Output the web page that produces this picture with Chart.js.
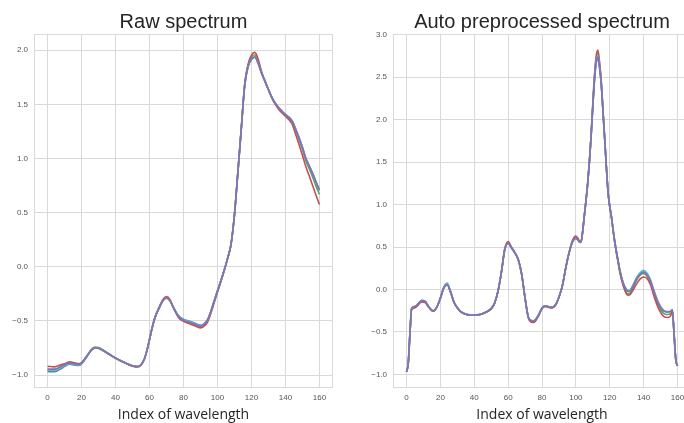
<!DOCTYPE html>
<html>
<head>
<meta charset="utf-8">
<script src="https://cdn.jsdelivr.net/npm/chart.js@4.4.0/dist/chart.umd.min.js"></script>
<style>
  html, body { margin: 0; padding: 0; background: #ffffff; overflow: hidden; width: 684px; height: 423px; }
  .panel { position: absolute; top: 0; }
  #raw { left: 0; }
  #auto { left: 342px; }
</style>
</head>
<body>
<canvas id="raw" class="panel" width="342" height="423"></canvas>
<canvas id="auto" class="panel" width="360" height="423"></canvas>
<script>
// ---- shared ticks ----
const xTicks = [0, 20, 40, 60, 80, 100, 120, 140, 160];
const rawYTicks = [-1.0, -0.5, 0.0, 0.5, 1.0, 1.5, 2.0];
const autoYTicks = [-1.0, -0.5, 0.0, 0.5, 1.0, 1.5, 2.0, 2.5, 3.0];

// ---- raw spectrum: wavelength indices and absorbance of each sample ----
const rawIdx = [0,4,8,10,13,16,18,20,23,26,28,30,34,38,42,46,50,53,55,57,59,61,63,66,68,70,72,74,77,80,84,88,90,92,94,96,98,100,102,104,106,108,110,112,114,116,118,120,122,124,126,128,130,132,134,136,138,140,142,144,146,148,150,152,154,156,158,160];

const rawBlue = [-0.968,-0.970,-0.940,-0.920,-0.900,-0.908,-0.912,-0.897,-0.833,-0.766,-0.749,-0.753,-0.786,-0.826,-0.861,-0.891,-0.916,-0.923,-0.906,-0.850,-0.740,-0.600,-0.480,-0.370,-0.310,-0.290,-0.312,-0.372,-0.450,-0.485,-0.505,-0.530,-0.540,-0.527,-0.492,-0.415,-0.318,-0.222,-0.128,-0.028,0.082,0.212,0.482,0.872,1.272,1.672,1.850,1.918,1.940,1.880,1.788,1.712,1.637,1.567,1.512,1.472,1.437,1.407,1.382,1.347,1.273,1.193,1.103,1.003,0.933,0.863,0.785,0.712];
const rawGreen = [-0.950,-0.952,-0.925,-0.910,-0.890,-0.900,-0.905,-0.892,-0.825,-0.760,-0.742,-0.747,-0.782,-0.823,-0.859,-0.889,-0.914,-0.921,-0.905,-0.850,-0.740,-0.600,-0.480,-0.370,-0.310,-0.287,-0.313,-0.377,-0.460,-0.497,-0.518,-0.543,-0.553,-0.538,-0.503,-0.423,-0.322,-0.226,-0.130,-0.030,0.080,0.210,0.480,0.870,1.270,1.670,1.860,1.935,1.958,1.895,1.795,1.712,1.635,1.563,1.507,1.465,1.428,1.396,1.368,1.330,1.260,1.175,1.085,0.980,0.905,0.830,0.745,0.668];
const rawRed = [-0.920,-0.925,-0.905,-0.895,-0.878,-0.888,-0.895,-0.885,-0.828,-0.765,-0.749,-0.753,-0.787,-0.827,-0.862,-0.892,-0.918,-0.926,-0.910,-0.855,-0.742,-0.598,-0.475,-0.360,-0.300,-0.275,-0.302,-0.375,-0.468,-0.505,-0.530,-0.555,-0.565,-0.550,-0.515,-0.435,-0.335,-0.235,-0.138,-0.035,0.078,0.210,0.480,0.875,1.280,1.690,1.870,1.955,1.980,1.915,1.800,1.715,1.635,1.560,1.500,1.455,1.420,1.390,1.360,1.315,1.225,1.130,1.030,0.925,0.840,0.750,0.660,0.575];
const rawCyan = [-0.958,-0.960,-0.932,-0.915,-0.895,-0.903,-0.908,-0.894,-0.831,-0.765,-0.748,-0.752,-0.785,-0.825,-0.860,-0.890,-0.915,-0.922,-0.905,-0.850,-0.740,-0.600,-0.480,-0.370,-0.310,-0.288,-0.313,-0.376,-0.455,-0.488,-0.508,-0.533,-0.543,-0.530,-0.495,-0.418,-0.320,-0.224,-0.130,-0.030,0.080,0.210,0.480,0.870,1.270,1.670,1.848,1.915,1.938,1.878,1.787,1.711,1.636,1.566,1.511,1.471,1.436,1.406,1.381,1.346,1.272,1.192,1.102,1.002,0.932,0.862,0.783,0.715];
const rawPurple = [-0.945,-0.945,-0.920,-0.905,-0.888,-0.897,-0.902,-0.890,-0.830,-0.765,-0.748,-0.752,-0.785,-0.825,-0.860,-0.890,-0.915,-0.922,-0.905,-0.850,-0.740,-0.600,-0.480,-0.370,-0.310,-0.288,-0.313,-0.376,-0.460,-0.495,-0.515,-0.540,-0.550,-0.535,-0.500,-0.420,-0.320,-0.225,-0.130,-0.030,0.080,0.210,0.480,0.870,1.270,1.670,1.850,1.915,1.935,1.875,1.785,1.710,1.635,1.565,1.510,1.470,1.435,1.405,1.380,1.345,1.270,1.190,1.100,1.000,0.930,0.860,0.780,0.705];

// ---- auto preprocessed spectrum ----
const autoIdx = [0,1,2,3,5,7,9,11,13,15,16,18,20,22,24,26,28,30,32,35,38,41,44,47,50,52,54,56,58,60,62,64,66,68,70,72,74,75,76,78,80,82,84,86,88,90,92,94,96,98,100,101,102,103,104,105,106,107,108,109,110,111,112,113,114,115,116,117,118,119,120,121,122,123,124,125,126,128,130,131,132,134,136,138,140,142,144,146,148,150,152,154,156,157,158,159,160];

const autoBlue = [-0.970,-0.870,-0.520,-0.225,-0.200,-0.165,-0.130,-0.140,-0.200,-0.245,-0.250,-0.200,-0.100,0.022,0.064,-0.028,-0.150,-0.215,-0.260,-0.290,-0.300,-0.300,-0.290,-0.265,-0.225,-0.160,-0.020,0.200,0.470,0.545,0.490,0.430,0.350,0.180,-0.100,-0.330,-0.368,-0.370,-0.358,-0.298,-0.218,-0.193,-0.203,-0.208,-0.178,-0.088,0.042,0.252,0.432,0.562,0.605,0.590,0.562,0.556,0.678,0.868,1.050,1.250,1.500,1.800,2.150,2.460,2.670,2.720,2.610,2.410,2.100,1.780,1.450,1.150,0.980,0.860,0.700,0.560,0.440,0.330,0.222,0.072,-0.005,-0.020,-0.015,0.055,0.135,0.190,0.210,0.180,0.108,-0.012,-0.122,-0.205,-0.252,-0.262,-0.258,-0.238,-0.520,-0.820,-0.900];
const autoGreen = [-0.970,-0.870,-0.520,-0.228,-0.205,-0.170,-0.135,-0.145,-0.203,-0.247,-0.252,-0.202,-0.100,0.025,0.068,-0.025,-0.148,-0.214,-0.259,-0.290,-0.300,-0.300,-0.290,-0.265,-0.225,-0.160,-0.020,0.200,0.470,0.550,0.493,0.432,0.352,0.180,-0.100,-0.332,-0.375,-0.378,-0.366,-0.302,-0.220,-0.196,-0.206,-0.212,-0.182,-0.090,0.040,0.250,0.432,0.565,0.615,0.600,0.570,0.560,0.680,0.870,1.050,1.255,1.505,1.810,2.170,2.500,2.710,2.780,2.650,2.440,2.110,1.785,1.450,1.150,0.980,0.860,0.700,0.558,0.436,0.325,0.212,0.055,-0.040,-0.050,-0.045,0.030,0.115,0.170,0.190,0.160,0.090,-0.035,-0.150,-0.235,-0.285,-0.295,-0.285,-0.260,-0.525,-0.825,-0.900];
const autoRed = [-0.970,-0.875,-0.525,-0.235,-0.215,-0.180,-0.145,-0.155,-0.210,-0.250,-0.255,-0.205,-0.105,0.018,0.058,-0.033,-0.152,-0.217,-0.262,-0.292,-0.302,-0.302,-0.292,-0.268,-0.228,-0.162,-0.018,0.205,0.480,0.565,0.500,0.437,0.355,0.180,-0.105,-0.340,-0.385,-0.387,-0.375,-0.310,-0.225,-0.200,-0.212,-0.218,-0.187,-0.092,0.042,0.255,0.440,0.580,0.630,0.610,0.575,0.562,0.682,0.872,1.055,1.260,1.515,1.825,2.190,2.530,2.750,2.820,2.680,2.460,2.120,1.790,1.450,1.150,0.975,0.850,0.690,0.545,0.420,0.310,0.200,0.040,-0.055,-0.067,-0.060,0.000,0.070,0.125,0.148,0.130,0.060,-0.070,-0.185,-0.270,-0.320,-0.330,-0.310,-0.250,-0.530,-0.830,-0.900];
const autoCyan = [-0.970,-0.870,-0.518,-0.222,-0.197,-0.162,-0.126,-0.136,-0.197,-0.243,-0.248,-0.197,-0.095,0.030,0.075,-0.020,-0.145,-0.212,-0.258,-0.289,-0.299,-0.299,-0.289,-0.264,-0.224,-0.159,-0.020,0.200,0.468,0.542,0.488,0.428,0.348,0.178,-0.100,-0.328,-0.366,-0.368,-0.356,-0.296,-0.216,-0.192,-0.202,-0.207,-0.177,-0.087,0.043,0.252,0.432,0.560,0.602,0.588,0.562,0.556,0.678,0.868,1.050,1.250,1.500,1.800,2.155,2.480,2.690,2.760,2.630,2.425,2.100,1.780,1.450,1.150,0.985,0.865,0.705,0.565,0.448,0.338,0.230,0.080,0.000,-0.010,-0.005,0.065,0.145,0.200,0.225,0.195,0.120,0.000,-0.115,-0.200,-0.250,-0.260,-0.256,-0.236,-0.518,-0.818,-0.900];
const autoPurple = [-0.970,-0.870,-0.520,-0.225,-0.200,-0.165,-0.130,-0.140,-0.200,-0.245,-0.250,-0.200,-0.100,0.020,0.060,-0.030,-0.150,-0.215,-0.260,-0.290,-0.300,-0.300,-0.290,-0.265,-0.225,-0.160,-0.020,0.200,0.470,0.545,0.490,0.430,0.350,0.180,-0.100,-0.330,-0.370,-0.372,-0.360,-0.300,-0.220,-0.195,-0.205,-0.210,-0.180,-0.090,0.040,0.250,0.430,0.560,0.605,0.590,0.565,0.560,0.680,0.870,1.050,1.250,1.500,1.800,2.150,2.470,2.680,2.740,2.620,2.420,2.100,1.780,1.450,1.150,0.980,0.860,0.700,0.560,0.440,0.330,0.220,0.070,-0.010,-0.025,-0.020,0.050,0.130,0.180,0.200,0.170,0.100,-0.020,-0.130,-0.210,-0.255,-0.265,-0.260,-0.240,-0.520,-0.820,-0.900];

// seaborn "deep" colours
const colors = { blue: '#4C72B0', green: '#55A868', red: '#C44E52', cyan: '#64B5CD', purple: '#8172B2' };

const GRID = '#d9d9d9';
const TEXT = '#262626';
const TICK = '#555555';
const SANS = "'Liberation Sans', Arial, sans-serif";

// light frame around the plotting area (all four sides)
const framePlugin = {
  id: 'frame',
  beforeDatasetsDraw(chart) {
    const a = chart.chartArea, ctx = chart.ctx;
    ctx.save();
    ctx.strokeStyle = GRID;
    ctx.lineWidth = 1;
    ctx.strokeRect(a.left + 0.5, a.top + 0.5, a.right - a.left - 1, a.bottom - a.top - 1);
    ctx.restore();
  }
};

function fmtY(v) { return Number(v).toFixed(1).replace('-', '\u2212'); }

// series listed top-most first: Chart.js paints dataset 0 last
function buildChart(id, title, idx, series, yMin, yMax, yTicks, yWidth, padRight) {
  const datasets = series.map(s => ({
    data: idx.map((x, i) => ({ x: x, y: s.values[i] })),
    borderColor: s.color,
    borderWidth: 1.6,
    pointRadius: 0,
    fill: false,
    cubicInterpolationMode: 'monotone'
  }));
  return new Chart(document.getElementById(id), {
    type: 'line',
    data: { datasets: datasets },
    plugins: [framePlugin],
    options: {
      responsive: false,
      animation: false,
      devicePixelRatio: 1,
      layout: { padding: { left: 0, right: padRight, top: 0, bottom: 0 } },
      plugins: {
        legend: { display: false },
        tooltip: { enabled: false },
        title: {
          display: true,
          text: title,
          fullSize: false,
          color: TEXT,
          font: { family: SANS, size: 20, weight: 'normal', lineHeight: 1.2 },
          padding: { top: 10, bottom: 0 }
        }
      },
      scales: {
        x: {
          type: 'linear',
          min: -8,
          max: 168,
          afterBuildTicks: s => { s.ticks = xTicks.map(v => ({ value: v })); },
          afterFit: s => { s.height = 35; },
          grid: { color: GRID, lineWidth: 1, drawTicks: false },
          border: { display: false },
          ticks: { color: TICK, padding: 5, maxRotation: 0, font: { family: SANS, size: 8 }, callback: v => String(v) },
          title: { display: true, text: 'Index of wavelength', color: TEXT, font: { family: "'Open Sans', sans-serif", size: 14 }, padding: { top: 0, bottom: 0 } }
        },
        y: {
          type: 'linear',
          min: yMin,
          max: yMax,
          afterBuildTicks: s => { s.ticks = yTicks.map(v => ({ value: v })); },
          afterFit: s => { s.width = yWidth; },
          grid: { color: GRID, lineWidth: 1, drawTicks: false },
          border: { display: false },
          ticks: { color: TICK, padding: 6, font: { family: SANS, size: 8 }, callback: v => fmtY(v) }
        }
      }
    }
  });
}

buildChart('raw', 'Raw spectrum', rawIdx, [
  { color: colors.purple, values: rawPurple },
  { color: colors.cyan, values: rawCyan },
  { color: colors.red, values: rawRed },
  { color: colors.green, values: rawGreen },
  { color: colors.blue, values: rawBlue }
], -1.12, 2.15, rawYTicks, 34, 9);

buildChart('auto', 'Auto preprocessed spectrum', autoIdx, [
  { color: colors.purple, values: autoPurple },
  { color: colors.cyan, values: autoCyan },
  { color: colors.red, values: autoRed },
  { color: colors.green, values: autoGreen },
  { color: colors.blue, values: autoBlue }
], -1.16, 3.01, autoYTicks, 51, 11);
</script>
</body>
</html>
